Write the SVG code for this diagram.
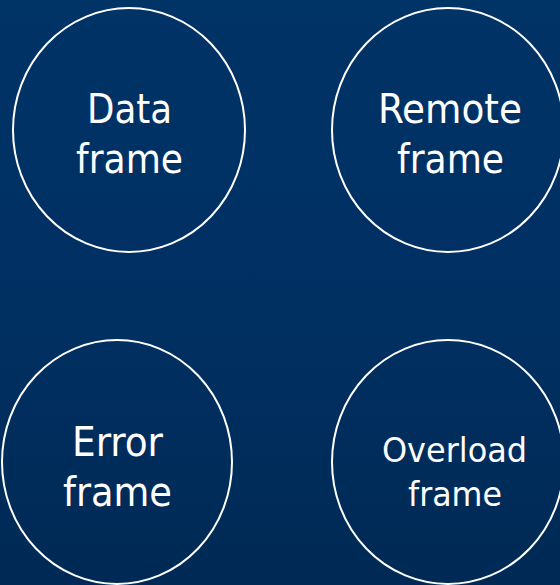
<svg xmlns="http://www.w3.org/2000/svg" width="560" height="585" viewBox="0 0 560 585">
  <defs>
    <linearGradient id="bg" x1="0" y1="0" x2="0" y2="1">
      <stop offset="0" stop-color="#003366"/>
      <stop offset="0.5" stop-color="#003063"/>
      <stop offset="1" stop-color="#002a55"/>
    </linearGradient>
    <style>
      .ring { fill: none; stroke: #ffffff; stroke-width: 2; }
      .label { fill: #ffffff; font-family: "DejaVu Sans Condensed", "DejaVu Sans", "Liberation Sans", sans-serif; font-stretch: condensed; text-anchor: middle; font-size: 40px; }
      .small { font-size: 34px; }
    </style>
  </defs>

  <rect width="560" height="585" fill="url(#bg)"/>

  <g id="data-frame">
    <ellipse class="ring" cx="129" cy="130" rx="116" ry="122"/>
    <text class="label" x="129.5" y="123" textLength="85" lengthAdjust="spacingAndGlyphs">Data</text>
    <text class="label" x="129.5" y="173" textLength="107" lengthAdjust="spacingAndGlyphs">frame</text>
  </g>

  <g id="remote-frame">
    <ellipse class="ring" cx="448" cy="130" rx="116" ry="122"/>
    <text class="label" x="450" y="123" textLength="144" lengthAdjust="spacingAndGlyphs">Remote</text>
    <text class="label" x="450.5" y="173" textLength="107" lengthAdjust="spacingAndGlyphs">frame</text>
  </g>

  <g id="error-frame">
    <ellipse class="ring" cx="117" cy="462" rx="115" ry="122"/>
    <text class="label" x="117.5" y="456" textLength="91" lengthAdjust="spacingAndGlyphs">Error</text>
    <text class="label" x="117.5" y="506" textLength="109" lengthAdjust="spacingAndGlyphs">frame</text>
  </g>

  <g id="overload-frame">
    <ellipse class="ring" cx="448" cy="462" rx="116" ry="122"/>
    <text class="label small" x="454.5" y="462" textLength="145" lengthAdjust="spacingAndGlyphs">Overload</text>
    <text class="label small" x="455" y="506" textLength="94" lengthAdjust="spacingAndGlyphs">frame</text>
  </g>

  <g id="connectors"/>
</svg>
